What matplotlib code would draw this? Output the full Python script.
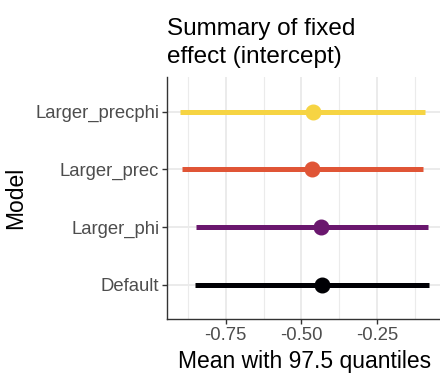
import matplotlib.pyplot as plt
import numpy as np

plt.rcParams['font.family'] = ['Liberation Sans', 'DejaVu Sans']

models = ['Default', 'Larger_phi', 'Larger_prec', 'Larger_precphi']
means = [-0.431, -0.436, -0.465, -0.463]
lower = [-0.850, -0.849, -0.895, -0.901]
upper = [-0.078, -0.081, -0.098, -0.093]
colors = ['#000004', '#6A176E', '#E05536', '#F6D443']

W, H = 440, 379
fig = plt.figure(figsize=(W / 100, H / 100), dpi=100)
# panel runs just off the right edge of the picture, as in the reference
left_px, right_px = 167, 443
ax = fig.add_axes([left_px / W, 1 - 319.3 / H, (right_px - left_px) / W, (319.3 - 77) / H])

# x scale: -0.75 at px 225.7, 303 px per unit
x0 = -0.75 - (225.7 - left_px) / 303
x1 = x0 + (right_px - left_px) / 303
ax.set_xlim(x0, x1)
ax.set_ylim(0.4, 4.6)

ypos = np.arange(1, len(models) + 1)
for y, m, lo, hi, c in zip(ypos, means, lower, upper, colors):
    ax.plot([lo, hi], [y, y], color=c, lw=3.6, solid_capstyle='butt', zorder=3)
    ax.plot(m, y, 'o', color=c, ms=10.5, zorder=4)

ax.set_xticks([-0.75, -0.5, -0.25])
ax.set_xticklabels(['-0.75', '-0.50', '-0.25'])
ax.set_xticks([-0.875, -0.625, -0.375, -0.125], minor=True)
ax.set_yticks(ypos)
ax.set_yticklabels(models)
ax.grid(True, which='major', color='#EBEBEB', lw=1.4, zorder=0)
ax.grid(True, which='minor', axis='x', color='#EBEBEB', lw=0.8, zorder=0)
ax.set_axisbelow(True)

for s in ['top', 'right']:
    ax.spines[s].set_visible(False)
for s in ['left', 'bottom']:
    ax.spines[s].set_color('#333333')
    ax.spines[s].set_linewidth(1.0)
ax.tick_params(axis='both', which='major', length=3.6, width=1.0, color='#333333',
               labelsize=13.3, labelcolor='#4D4D4D', pad=2)
ax.tick_params(axis='x', which='minor', length=0)

ax.set_xlabel('Mean with 97.5 quantiles', fontsize=16.5, labelpad=4)
ax.set_ylabel('Model', fontsize=16.5, labelpad=6)
ax.set_title('Summary of fixed\neffect (intercept)', fontsize=17.5, loc='left',
             pad=10, linespacing=1.35)

fig.savefig('out.png', dpi=100)
